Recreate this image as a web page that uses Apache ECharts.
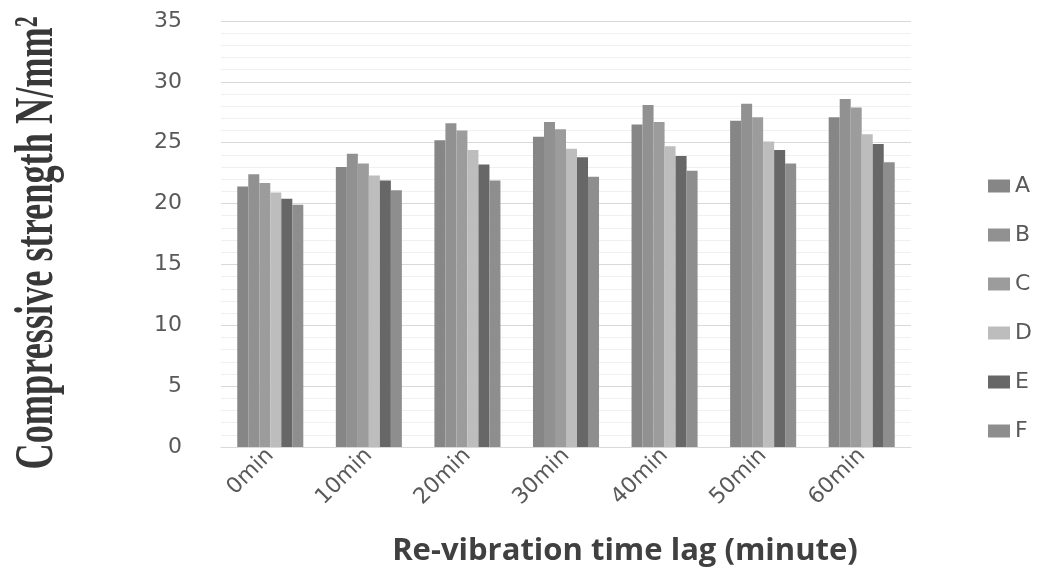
<!DOCTYPE html>
<html>
<head>
<meta charset="utf-8">
<script src="https://cdn.jsdelivr.net/npm/echarts@6/dist/echarts.min.js"></script>
<style>html,body{margin:0;padding:0;background:#fff}#c{width:1045px;height:576px}</style>
</head>
<body>
<div id="c"></div>
<script>
const categories = ['0min','10min','20min','30min','40min','50min','60min'];
const seriesNames = ['A','B','C','D','E','F'];
const A = [21.4, 23.0, 25.2, 25.5, 26.5, 26.8, 27.1];
const B = [22.4, 24.1, 26.6, 26.7, 28.1, 28.2, 28.6];
const C = [21.7, 23.3, 26.0, 26.1, 26.7, 27.1, 27.9];
const D = [20.9, 22.3, 24.4, 24.5, 24.7, 25.1, 25.7];
const E = [20.4, 21.9, 23.2, 23.8, 23.9, 24.4, 24.9];
const F = [19.9, 21.1, 21.9, 22.2, 22.7, 23.3, 23.4];
const values = [A, B, C, D, E, F];
const colors = ['#868686','#919191','#9c9c9c','#bdbdbd','#676767','#8e8e8e'];

const chart = echarts.init(document.getElementById('c'));
chart.setOption({
  animation: false,
  backgroundColor: '#fff',
  grid: {left: 221, right: 134, top: 21, bottom: 129},
  legend: {
    orient: 'vertical', left: 983, top: 170,
    itemWidth: 22, itemHeight: 13, itemGap: 27,
    icon: 'rect',
    textStyle: {fontFamily: 'DejaVu Sans', fontSize: 22, color: '#595959', lineHeight: 22},
    data: seriesNames
  },
  xAxis: {
    type: 'category', data: categories,
    axisLine: {lineStyle: {color: '#d9d9d9', width: 1}},
    axisTick: {show: false},
    axisLabel: {rotate: 45, fontFamily: 'DejaVu Sans', fontSize: 22, color: '#595959', margin: 5},
    name: 'Re-vibration time lag (minute)', nameLocation: 'middle', nameGap: 89,
    nameTextStyle: {fontFamily: 'Open Sans', fontWeight: 'bold', fontSize: 31, color: '#404040', padding: [0, 0, 0, 118]}
  },
  yAxis: {
    type: 'value', min: 0, max: 35, interval: 5,
    axisLine: {show: false}, axisTick: {show: false},
    axisLabel: {fontFamily: 'DejaVu Sans', fontSize: 22, color: '#595959', margin: 39},
    splitLine: {lineStyle: {color: '#d9d9d9', width: 1}},
    minorTick: {show: false, splitNumber: 5},
    minorSplitLine: {show: true, lineStyle: {color: '#f0f0f0', width: 1}}
  },
  graphic: [{
    type: 'text', x: 38, y: 243, rotation: Math.PI / 2, scaleX: 0.66, scaleY: 1,
    style: {
      text: 'Compressive strength N/mm²',
      font: 'bold 55px "Liberation Serif"',
      fill: '#383838', align: 'center', verticalAlign: 'middle'
    }
  }],
  series: seriesNames.map((n, i) => ({
    name: n, type: 'bar', data: values[i],
    barGap: '0%', barCategoryGap: '33%',
    itemStyle: {color: colors[i]}
  }))
});
</script>
</body>
</html>
